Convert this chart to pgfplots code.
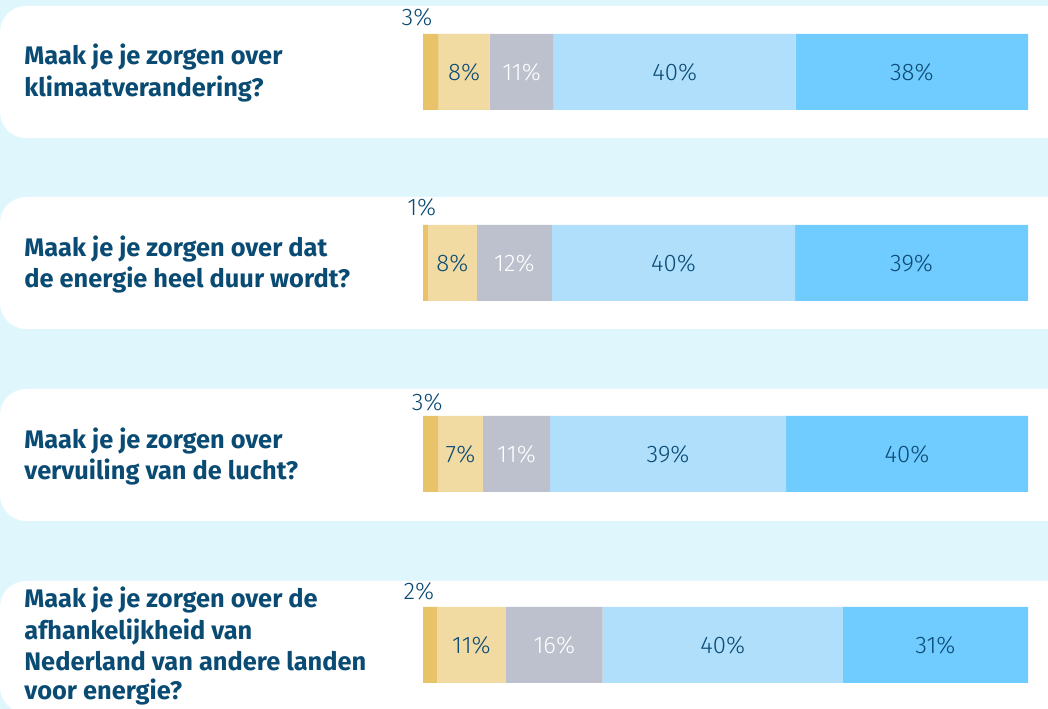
\documentclass[border=0pt]{standalone}
\usepackage{pgfplots}
\pgfplotsset{compat=1.18}
\usepackage{fontspec}
\setmainfont{Fira Sans}
\newfontfamily\numfont{Fira Sans Light}

\definecolor{bgblue}{HTML}{E0F6FD}
\definecolor{txt}{HTML}{0A4B74}
\definecolor{golddark}{HTML}{E8C36A}
\definecolor{goldlight}{HTML}{F2DAA3}
\definecolor{greyseg}{HTML}{BCC1CD}
\definecolor{lightblue}{HTML}{B0DFFC}
\definecolor{midblue}{HTML}{70CBFF}

\begin{document}
\begin{tikzpicture}[x=0.5bp, y=0.5bp,
    q/.style={anchor=base west, inner sep=0pt, text=txt,
              font=\fontsize{12.7bp}{15bp}\selectfont\bfseries},
    pct/.style={inner sep=0pt, font=\fontsize{12bp}{14bp}\selectfont\numfont}]

% background and white bands (1 unit = 1 px of the reference, y upward)
\fill[bgblue] (0,0) rectangle (1048,709);
\fill[white, rounded corners=13bp] (0,571) rectangle (1100,703);
\fill[white, rounded corners=13bp] (0,380) rectangle (1100,512);
\fill[white, rounded corners=13bp] (0,188) rectangle (1100,320);
\fill[white, rounded corners=13bp] (0,-4) rectangle (1100,128);

% questions
\node[q] at (24,644) {Maak je je zorgen over};
\node[q] at (24,612) {klimaatverandering?};
\node[q] at (24,452) {Maak je je zorgen over dat};
\node[q] at (24,421) {de energie heel duur wordt?};
\node[q] at (24,260) {Maak je je zorgen over};
\node[q] at (24,229) {vervuiling van de lucht?};
\node[q] at (24,101) {Maak je je zorgen over de};
\node[q] at (24,69) {afhankelijkheid van};
\node[q] at (24,38) {Nederland van andere landen};
\node[q] at (24,9) {voor energie?};

\begin{axis}[
    at={(211.5bp,366.25bp)}, anchor=north west,
    scale only axis,
    width=302.5bp, height=382bp,
    xmin=0, xmax=100,
    ymin=0.5, ymax=4.5,
    y dir=reverse,
    hide axis,
    clip=false,
    xbar stacked,
    bar width=38bp,
]
% row 1..4 from the top; widths
\addplot[fill=golddark, draw=none] coordinates {(2.6,1) (0.8,2) (2.5,3) (2.3,4)};
\addplot[fill=goldlight, draw=none] coordinates {(8.4,1) (8.1,2) (7.4,3) (11.4,4)};
\addplot[fill=greyseg, draw=none] coordinates {(10.6,1) (12.4,2) (11.1,3) (16.0,4)};
\addplot[fill=lightblue, draw=none] coordinates {(40.0,1) (40.2,2) (39.0,3) (39.7,4)};
\addplot[fill=midblue, draw=none] coordinates {(38.4,1) (38.5,2) (40.0,3) (30.6,4)};

% label anchors: small first segment above the bar, others mid-segment
\coordinate (s1) at (axis cs:-1.0,0.712);
\coordinate (s2) at (axis cs:-0.2,1.707);
\coordinate (s3) at (axis cs:0.7,2.728);
\coordinate (s4) at (axis cs:-0.7,3.717);
\coordinate (a1) at (axis cs:6.8,1);
\coordinate (b1) at (axis cs:16.3,1);
\coordinate (c1) at (axis cs:41.6,1);
\coordinate (d1) at (axis cs:80.8,1);
\coordinate (a2) at (axis cs:4.85,2);
\coordinate (b2) at (axis cs:15.1,2);
\coordinate (c2) at (axis cs:41.4,2);
\coordinate (d2) at (axis cs:80.75,2);
\coordinate (a3) at (axis cs:6.2,3);
\coordinate (b3) at (axis cs:15.45,3);
\coordinate (c3) at (axis cs:40.5,3);
\coordinate (d3) at (axis cs:80.0,3);
\coordinate (a4) at (axis cs:8.0,4);
\coordinate (b4) at (axis cs:21.7,4);
\coordinate (c4) at (axis cs:49.55,4);
\coordinate (d4) at (axis cs:84.7,4);
\end{axis}

\node[pct, text=txt] at (s1) {3\%};
\node[pct, text=txt] at (s2) {1\%};
\node[pct, text=txt] at (s3) {3\%};
\node[pct, text=txt] at (s4) {2\%};

\node[pct, text=txt] at (a1) {8\%};
\node[pct, text=white] at (b1) {11\%};
\node[pct, text=txt] at (c1) {40\%};
\node[pct, text=txt] at (d1) {38\%};

\node[pct, text=txt] at (a2) {8\%};
\node[pct, text=white] at (b2) {12\%};
\node[pct, text=txt] at (c2) {40\%};
\node[pct, text=txt] at (d2) {39\%};

\node[pct, text=txt] at (a3) {7\%};
\node[pct, text=white] at (b3) {11\%};
\node[pct, text=txt] at (c3) {39\%};
\node[pct, text=txt] at (d3) {40\%};

\node[pct, text=txt] at (a4) {11\%};
\node[pct, text=white] at (b4) {16\%};
\node[pct, text=txt] at (c4) {40\%};
\node[pct, text=txt] at (d4) {31\%};

\pgfresetboundingbox
\path[use as bounding box] (0,0) rectangle (1048,709);
\end{tikzpicture}
\end{document}
